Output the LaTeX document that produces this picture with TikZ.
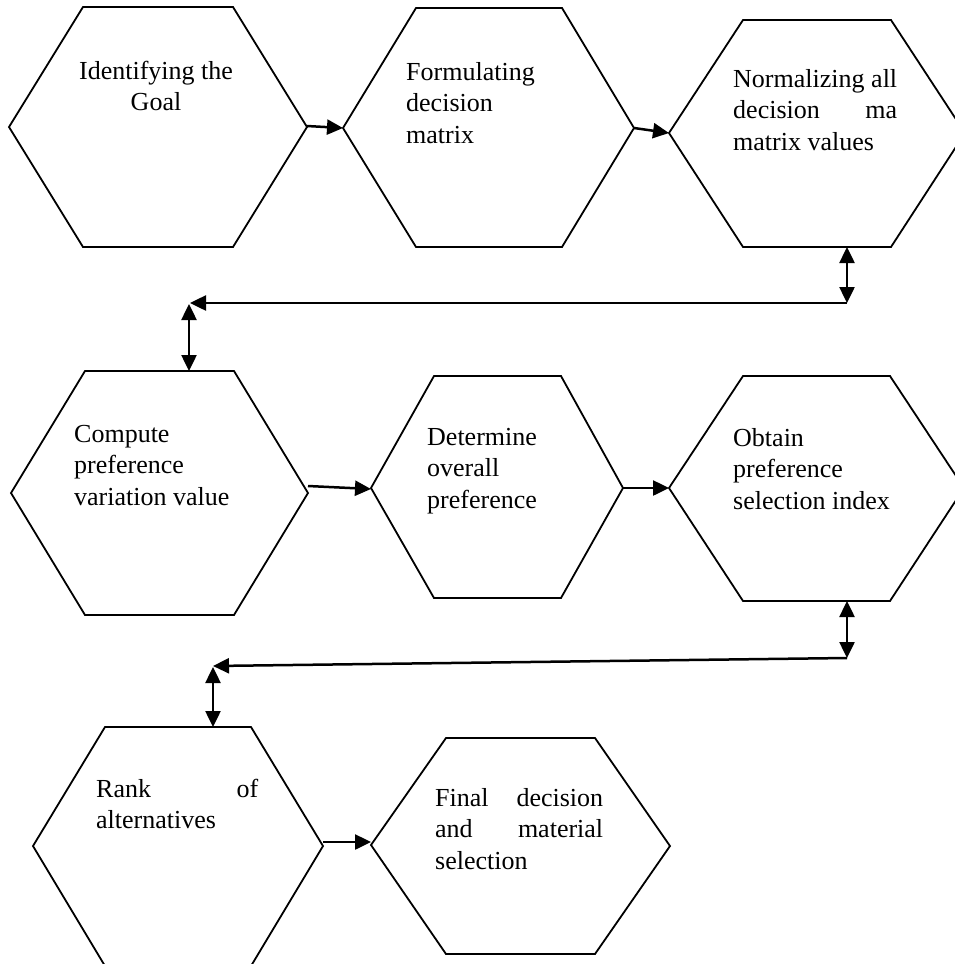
\documentclass[tikz,border=0pt]{standalone}
\usepackage{fontspec}
\setmainfont{Liberation Serif}
\usetikzlibrary{arrows.meta}
\begin{document}
\begin{tikzpicture}[x=1pt,y=-1pt,
  hexline/.style={draw=black,line width=1.8pt,line join=miter},
  arr/.style={line width=2.5pt,-{Triangle[length=16pt,width=15pt]}},
  darr/.style={line width=2.5pt,{Triangle[length=16pt,width=15pt]}-{Triangle[length=16pt,width=15pt]}},
  lbl/.style={inner sep=0pt,anchor=base west,align=left,font=\fontsize{26}{31.5}\selectfont}]
\useasboundingbox[fill=white] (0,0) rectangle (954,964);
% hexagon 1
\coordinate (h1L) at (9,127);   \coordinate (h1TL) at (83,7);   \coordinate (h1TR) at (233,7);
\coordinate (h1R) at (307,127); \coordinate (h1BR) at (233,247); \coordinate (h1BL) at (83,247);
\draw[hexline] (h1L)--(h1TL)--(h1TR)--(h1R)--(h1BR)--(h1BL)--cycle;
% hexagon 2
\coordinate (h2L) at (343,128); \coordinate (h2TL) at (416,8);  \coordinate (h2TR) at (562,8);
\coordinate (h2R) at (634,128); \coordinate (h2BR) at (562,247); \coordinate (h2BL) at (416,247);
\draw[hexline] (h2L)--(h2TL)--(h2TR)--(h2R)--(h2BR)--(h2BL)--cycle;
% hexagon 3
\coordinate (h3L) at (669,133); \coordinate (h3TL) at (743,20); \coordinate (h3TR) at (891,20);
\coordinate (h3R) at (965,133); \coordinate (h3BR) at (891,247); \coordinate (h3BL) at (743,247);
\draw[hexline] (h3L)--(h3TL)--(h3TR)--(h3R)--(h3BR)--(h3BL)--cycle;
% hexagon 4
\coordinate (h4L) at (11,493);  \coordinate (h4TL) at (85,371); \coordinate (h4TR) at (234,371);
\coordinate (h4R) at (308,493); \coordinate (h4BR) at (234,615); \coordinate (h4BL) at (85,615);
\draw[hexline] (h4L)--(h4TL)--(h4TR)--(h4R)--(h4BR)--(h4BL)--cycle;
% hexagon 5
\coordinate (h5L) at (371,488); \coordinate (h5TL) at (434,376); \coordinate (h5TR) at (561,376);
\coordinate (h5R) at (623,488); \coordinate (h5BR) at (561,598); \coordinate (h5BL) at (434,598);
\draw[hexline] (h5L)--(h5TL)--(h5TR)--(h5R)--(h5BR)--(h5BL)--cycle;
% hexagon 6
\coordinate (h6L) at (669,488); \coordinate (h6TL) at (743,376); \coordinate (h6TR) at (890,376);
\coordinate (h6R) at (964,488); \coordinate (h6BR) at (890,601); \coordinate (h6BL) at (743,601);
\draw[hexline] (h6L)--(h6TL)--(h6TR)--(h6R)--(h6BR)--(h6BL)--cycle;
% hexagon 7
\coordinate (h7L) at (33,846);  \coordinate (h7TL) at (105,727); \coordinate (h7TR) at (251,727);
\coordinate (h7R) at (323,846); \coordinate (h7BR) at (251,966); \coordinate (h7BL) at (105,966);
\draw[hexline] (h7L)--(h7TL)--(h7TR)--(h7R)--(h7BR)--(h7BL)--cycle;
% hexagon 8
\coordinate (h8L) at (371,845); \coordinate (h8TL) at (446,738); \coordinate (h8TR) at (595,738);
\coordinate (h8R) at (670,846); \coordinate (h8BR) at (595,954); \coordinate (h8BL) at (446,954);
\draw[hexline] (h8L)--(h8TL)--(h8TR)--(h8R)--(h8BR)--(h8BL)--cycle;
% labels (base anchor = baseline of last line)
\node[lbl,anchor=base,align=center] (t1) at (156,110.5) {Identifying the\\Goal};
\node[lbl] (t2) at (406,143) {Formulating\\decision\\matrix};
\node[lbl] (t3) at (733,150) {\makebox[164pt][s]{Normalizing all}\\\makebox[164pt][s]{decision ma}\\matrix values};
\node[lbl] (t4) at (74,505) {Compute\\preference\\variation value};
\node[lbl] (t5) at (427,508) {Determine\\overall\\preference};
\node[lbl] (t6) at (733,509) {Obtain\\preference\\selection index};
\node[lbl] (t7) at (96,828.5) {\makebox[162pt][s]{Rank of}\\alternatives};
\node[lbl] (t8) at (435,869) {\makebox[168pt][s]{Final decision}\\\makebox[168pt][s]{and material}\\selection};
% connector coordinates
\coordinate (a1s) at (307,126);
\coordinate (a3s) at (308,486); \coordinate (a3e) at (371,489);
\coordinate (a5s) at (323,842); \coordinate (a5e) at (371,842);
\coordinate (h3b) at (847,247); \coordinate (c1) at (847,303); \coordinate (c2) at (190,303);
\coordinate (h4t) at (189,371); \coordinate (c2v) at (189,304);
\coordinate (h6b) at (847,601); \coordinate (c3) at (847,658); \coordinate (c4) at (213,666);
\coordinate (h7t) at (213,727); \coordinate (c4v) at (213,667);
% connectors
\draw[arr] (a1s) -- (h2L);
\draw[arr] (h2R) -- (h3L);
\draw[darr] (h3b) -- (c1);
\draw[arr] (c1) -- (c2);
\draw[darr] (c2v) -- (h4t);
\draw[arr] (a3s) -- (a3e);
\draw[arr] (h5R) -- (h6L);
\draw[darr] (h6b) -- (c3);
\draw[arr] (c3) -- (c4);
\draw[darr] (c4v) -- (h7t);
\draw[arr] (a5s) -- (a5e);
\end{tikzpicture}
\end{document}
